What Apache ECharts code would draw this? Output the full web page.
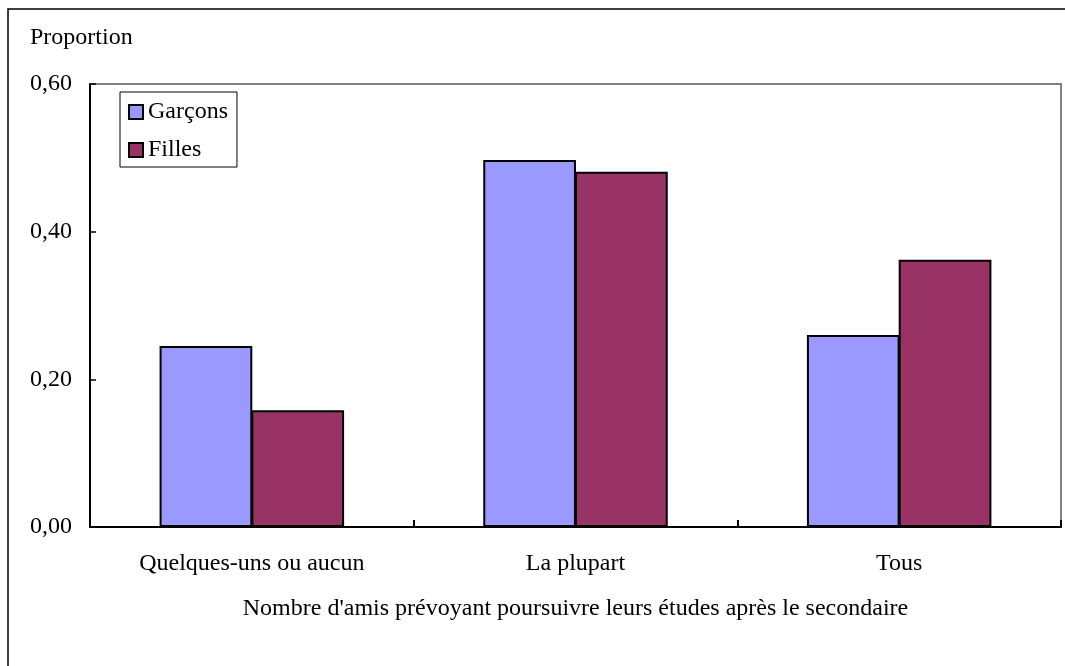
<!DOCTYPE html>
<html>
<head>
<meta charset="utf-8">
<script src="https://cdn.jsdelivr.net/npm/echarts@6/dist/echarts.min.js"></script>
<style>
  html, body { margin: 0; padding: 0; background: #fff; }
  #chart { width: 1065px; height: 666px; }
</style>
</head>
<body>
<div id="chart"></div>
<script>
// Proportion of students by how many friends plan post-secondary studies
const categories = ['Quelques-uns ou aucun', 'La plupart', 'Tous'];
const garcons = [0.245, 0.497, 0.260];
const filles = [0.158, 0.481, 0.362];
const seriesNames = ['Garçons', 'Filles'];
const yTicks = [0, 0.2, 0.4, 0.6];

const FONT = '"Liberation Serif", "Times New Roman", serif';
const FS = 24;

const chart = echarts.init(document.getElementById('chart'), null, { renderer: 'canvas' });

chart.setOption({
  animation: false,
  backgroundColor: '#ffffff',
  textStyle: { fontFamily: FONT, color: '#000' },
  graphic: [
    {
      type: 'rect',
      shape: { x: 8, y: 9, width: 1200, height: 800 },
      style: { fill: 'none', stroke: '#000', lineWidth: 1.5 },
      silent: true,
      z: 0
    },
    {
      type: 'text',
      left: 30,
      top: 26,
      style: { text: 'Proportion', font: FS + 'px ' + FONT, fill: '#000' }
    }
  ],
  grid: {
    left: 90, right: 4, top: 84, bottom: 139,
    show: true,
    borderColor: '#808080',
    borderWidth: 2,
    backgroundColor: 'transparent'
  },
  legend: {
    data: seriesNames,
    orient: 'vertical',
    left: 120,
    top: 92,
    icon: 'rect',
    itemWidth: 14,
    itemHeight: 14,
    itemGap: 14,
    itemTextGap: 6,
    padding: [8, 9, 5, 8],
    borderColor: '#000',
    borderWidth: 1,
    backgroundColor: '#fff',
    textStyle: { fontFamily: FONT, fontSize: FS, color: '#000' }
  },
  xAxis: {
    type: 'category',
    data: categories,
    name: "Nombre d'amis prévoyant poursuivre leurs études après le secondaire",
    nameLocation: 'middle',
    nameGap: 70,
    nameTextStyle: { fontFamily: FONT, fontSize: FS, color: '#000' },
    axisLine: { show: true, lineStyle: { color: '#000', width: 2 } },
    axisTick: { show: true, inside: true, length: 7, lineStyle: { color: '#000', width: 2 } },
    axisLabel: { margin: 25, fontFamily: FONT, fontSize: FS, color: '#000' },
    splitLine: { show: false }
  },
  yAxis: {
    type: 'value',
    min: yTicks[0],
    max: yTicks[yTicks.length - 1],
    interval: yTicks[1] - yTicks[0],
    axisLine: { show: true, lineStyle: { color: '#000', width: 2 } },
    axisTick: { show: true, inside: true, length: 6, lineStyle: { color: '#000', width: 1.5 } },
    axisLabel: {
      margin: 18,
      fontFamily: FONT, fontSize: FS, color: '#000',
      formatter: v => v.toFixed(2).replace('.', ',')
    },
    splitLine: { show: false }
  },
  series: [
    {
      name: seriesNames[0],
      type: 'bar',
      data: garcons,
      barGap: '-1%',
      barCategoryGap: '43%',
      itemStyle: { color: '#9999FF', borderColor: '#000', borderWidth: 2 }
    },
    {
      name: seriesNames[1],
      type: 'bar',
      data: filles,
      itemStyle: { color: '#993366', borderColor: '#000', borderWidth: 2 }
    }
  ]
});
</script>
</body>
</html>
